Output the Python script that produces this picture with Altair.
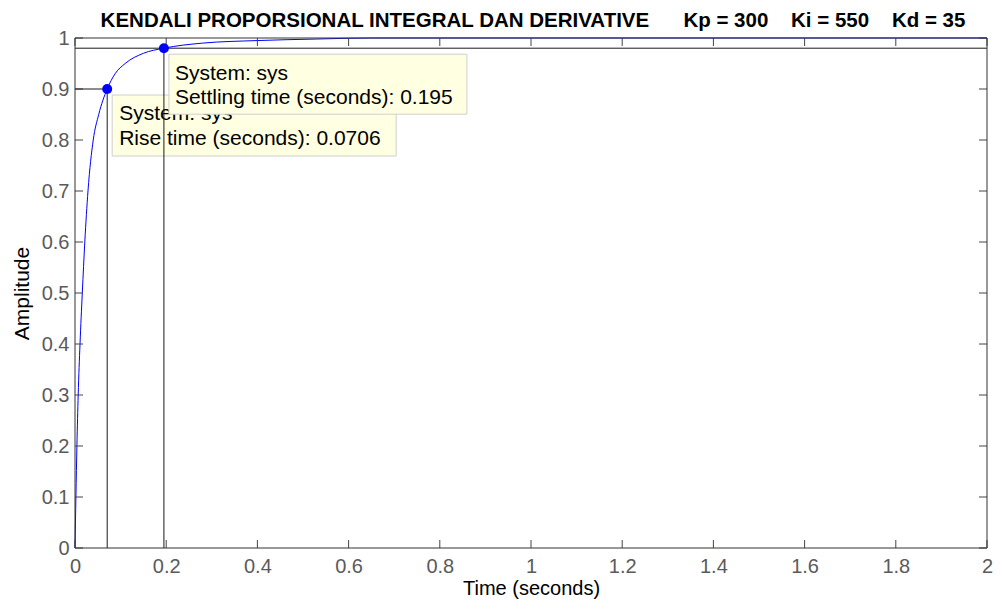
import altair as alt
import pandas as pd

# Step response samples
time_s = [0, 0.002, 0.0042, 0.007, 0.011, 0.016, 0.0215, 0.0285, 0.040, 0.052,
          0.0706, 0.088, 0.11, 0.15, 0.195, 0.28, 0.40, 0.53, 0.65, 1.0, 1.5, 2.0]
amplitude = [0, 0.1, 0.2, 0.3, 0.4, 0.5, 0.6, 0.7, 0.8, 0.85,
             0.9, 0.93, 0.95, 0.97, 0.98, 0.99, 0.995, 0.998, 1.0, 1.0, 1.0, 1.0]

# Characteristics
rise_time = [0.0706]
rise_level = [0.9]
rise_text = ["System: sys", "Rise time (seconds): 0.0706"]
settle_time = [0.195]
settle_level = [0.98]
settle_text = ["System: sys", "Settling time (seconds): 0.195"]

x_ticks = [0, 0.2, 0.4, 0.6, 0.8, 1, 1.2, 1.4, 1.6, 1.8, 2]
y_ticks = [0, 0.1, 0.2, 0.3, 0.4, 0.5, 0.6, 0.7, 0.8, 0.9, 1]
x_limits = [0, 2]
y_limits = [0, 1]

W, H = 912, 510
FONT = "Liberation Sans"
TICK = 8

curve_df = pd.DataFrame({"t": time_s, "v": amplitude})
rise_df = pd.DataFrame({"t": rise_time, "v": rise_level, "t0": [x_limits[0]], "v0": [y_limits[0]]})
settle_df = pd.DataFrame({"t": settle_time, "v": settle_level, "t0": [x_limits[0]], "v0": [y_limits[0]]})
xt_df = pd.DataFrame({"t": x_ticks})
yt_df = pd.DataFrame({"v": y_ticks})
xl_df = pd.DataFrame({"t": x_limits})
yl_df = pd.DataFrame({"v": y_limits})

x_axis = alt.Axis(values=x_ticks, format="~g", grid=False, ticks=False, tickSize=0,
                  domain=False, labelFont=FONT, labelFontSize=20, labelColor="#5a5a5a",
                  labelPadding=8, labelFlush=False, labelOverlap=False,
                  title="Time (seconds)", titleFont=FONT,
                  titleFontSize=20, titleFontWeight="normal", titleColor="black",
                  titlePadding=2)
y_axis = alt.Axis(values=y_ticks, format="~g", grid=False, ticks=False, tickSize=0,
                  domain=False, labelFont=FONT, labelFontSize=20, labelColor="#5a5a5a",
                  labelPadding=6, labelFlush=False, labelOverlap=False,
                  title="Amplitude", titleFont=FONT,
                  titleFontSize=21, titleFontWeight="normal", titleColor="black",
                  titlePadding=9)
x_scale = alt.Scale(domain=x_limits, nice=False, zero=False)
y_scale = alt.Scale(domain=y_limits, nice=False, zero=False)


def X(f):
    return alt.X(f + ":Q", scale=x_scale, axis=x_axis, title="Time (seconds)")


def Y(f):
    return alt.Y(f + ":Q", scale=y_scale, axis=y_axis, title="Amplitude")


curve = alt.Chart(curve_df).mark_line(color="#0000ff", strokeWidth=1, interpolate="monotone").encode(
    x=X("t"), y=Y("v"))

box_fill = "#ffffe1"
box_stroke = "#cfcfcf"

rise_box = alt.Chart(rise_df).mark_rect(fill=box_fill, stroke=box_stroke, strokeWidth=1,
                                        xOffset=5, x2Offset=289, yOffset=6, y2Offset=67).encode(
    x=X("t"), x2=alt.X2("t"), y=Y("v"), y2=alt.Y2("v"))
rise_lbl = alt.Chart(rise_df).mark_text(align="left", baseline="alphabetic", dx=12, dy=31,
                                        lineHeight=25, font=FONT, fontSize=21, color="black").encode(
    x=X("t"), y=Y("v"), text=alt.value(rise_text))

settle_box = alt.Chart(settle_df).mark_rect(fill=box_fill, stroke=box_stroke, strokeWidth=1,
                                            xOffset=5, x2Offset=303, yOffset=6, y2Offset=66).encode(
    x=X("t"), x2=alt.X2("t"), y=Y("v"), y2=alt.Y2("v"))
settle_lbl = alt.Chart(settle_df).mark_text(align="left", baseline="alphabetic", dx=11, dy=32,
                                            lineHeight=24, font=FONT, fontSize=21, color="black").encode(
    x=X("t"), y=Y("v"), text=alt.value(settle_text))

line_col = "#1a1a1a"
rise_h = alt.Chart(rise_df).mark_rule(color=line_col, strokeWidth=1).encode(
    x=X("t0"), x2=alt.X2("t"), y=Y("v"))
rise_v = alt.Chart(rise_df).mark_rule(color=line_col, strokeWidth=1).encode(
    x=X("t"), y=Y("v0"), y2=alt.Y2("v"))
settle_h = alt.Chart(settle_df).mark_rule(color=line_col, strokeWidth=1).encode(y=Y("v"))
settle_v = alt.Chart(settle_df).mark_rule(color=line_col, strokeWidth=1).encode(
    x=X("t"), y=Y("v0"), y2=alt.Y2("v"))

frame_col = "#333333"
frame_x = alt.Chart(xl_df).mark_rule(color=frame_col, strokeWidth=1).encode(x=X("t"))
frame_y = alt.Chart(yl_df).mark_rule(color=frame_col, strokeWidth=1).encode(y=Y("v"))

tick_col = "#444444"
xt_bot = alt.Chart(xt_df).mark_rule(color=tick_col, strokeWidth=1).encode(
    x=X("t"), y=alt.value(H), y2=alt.value(H - TICK))
xt_top = alt.Chart(xt_df).mark_rule(color=tick_col, strokeWidth=1).encode(
    x=X("t"), y=alt.value(0), y2=alt.value(TICK))
yt_left = alt.Chart(yt_df).mark_rule(color=tick_col, strokeWidth=1).encode(
    y=Y("v"), x=alt.value(0), x2=alt.value(TICK))
yt_right = alt.Chart(yt_df).mark_rule(color=tick_col, strokeWidth=1).encode(
    y=Y("v"), x=alt.value(W - TICK), x2=alt.value(W))

pts = alt.Chart(pd.concat([rise_df, settle_df])).mark_circle(size=100, color="#0000ff", opacity=1).encode(
    x=X("t"), y=Y("v"))

nb = "\u00a0"
title_text = ("KENDALI PROPORSIONAL INTEGRAL DAN DERIVATIVE" + nb * 6 + "Kp = 300" + nb * 4 +
              "Ki = 550" + nb * 4 + "Kd = 35")

chart = alt.layer(
    curve, xt_bot, xt_top, yt_left, yt_right,
    rise_box, rise_lbl, settle_box, settle_lbl,
    rise_h, rise_v, settle_h, settle_v,
    frame_x, frame_y, pts
).properties(
    width=W, height=H,
    title=alt.Title(text=title_text, font=FONT, fontSize=20.5, fontWeight="bold", color="black",
                    anchor="middle", offset=6, dx=2, dy=9),
    padding={"left": 67, "top": 30, "right": 7, "bottom": 52},
    autosize=alt.AutoSizeParams(type="none"),
).configure_view(stroke=None)

chart.save("out.html", embed_options={"renderer": "svg", "actions": False})
